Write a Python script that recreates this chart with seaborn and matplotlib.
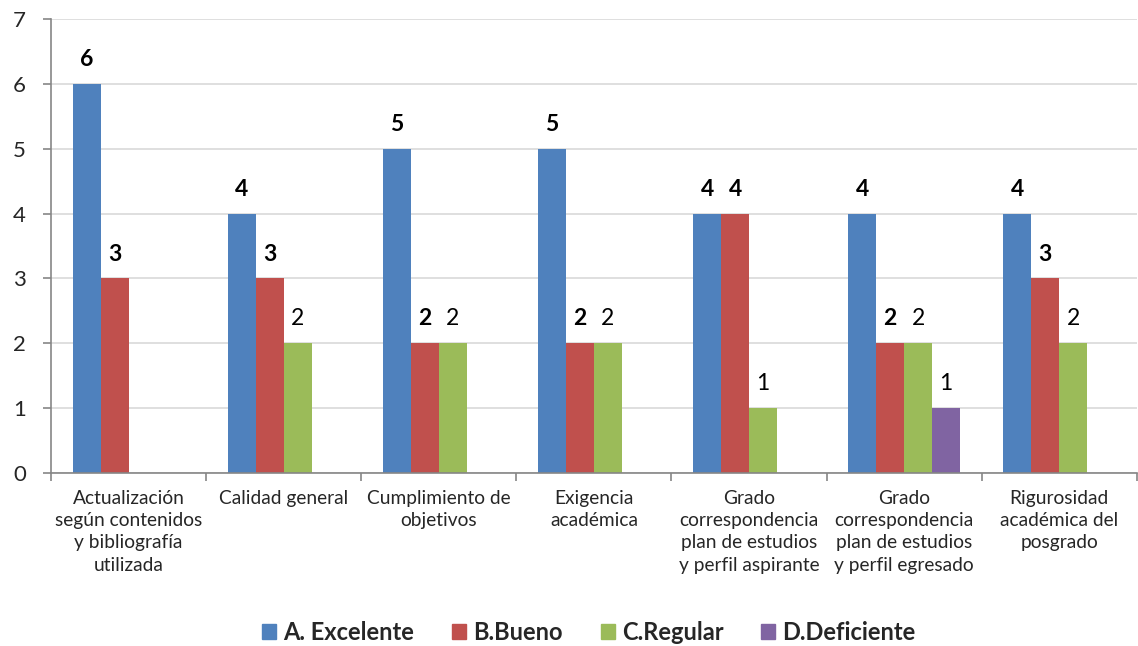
import matplotlib
matplotlib.use("Agg")
import matplotlib.pyplot as plt
import seaborn as sns
import pandas as pd
import numpy as np

categories = [
    "Actualización\nsegún contenidos\ny bibliografía\nutilizada",
    "Calidad general",
    "Cumplimiento de\nobjetivos",
    "Exigencia\nacadémica",
    "Grado\ncorrespondencia\nplan de estudios\ny perfil aspirante",
    "Grado\ncorrespondencia\nplan de estudios\ny perfil egresado",
    "Rigurosidad\nacadémica del\nposgrado",
]
series = ["A. Excelente", "B.Bueno", "C.Regular", "D.Deficiente"]
excelente = [6, 4, 5, 5, 4, 4, 4]
bueno = [3, 3, 2, 2, 4, 2, 3]
regular = [0, 2, 2, 2, 1, 2, 2]
deficiente = [0, 0, 0, 0, 0, 1, 0]
yticks = [0, 1, 2, 3, 4, 5, 6, 7]

colors = ["#4F81BD", "#C0504D", "#9BBB59", "#8064A2"]
bold_series = [True, True, False, False]

rows = []
for s, vals in zip(series, [excelente, bueno, regular, deficiente]):
    for c, v in zip(categories, vals):
        rows.append({"cat": c, "serie": s, "valor": v})
df = pd.DataFrame(rows)

sns.set_theme(style="white")
plt.rcParams["font.family"] = ["Lato", "DejaVu Sans"]

fig = plt.figure(figsize=(11.38, 6.46), dpi=100)
ax = fig.add_axes([51 / 1138, 1 - 473 / 646, 1 - 51 / 1138 - 0.001, (473 - 19) / 646])

sns.barplot(data=df, x="cat", y="valor", hue="serie", order=categories,
            hue_order=series, palette=colors, width=0.72, linewidth=0,
            saturation=1, ax=ax, legend=True)

for cont, b in zip(ax.containers, bold_series):
    labels = [("%d" % round(r.get_height())) if r.get_height() > 0 else "" for r in cont]
    ax.bar_label(cont, labels=labels, padding=10, fontsize=16.5,
                 fontweight="bold" if b else "normal", color="black")

ax.set_ylim(0, 7)
ax.set_xlim(-0.5, len(categories) - 0.5)
ax.set_yticks(yticks)
ax.set_xlabel("")
ax.set_ylabel("")
ax.yaxis.grid(True, color="#D9D9D9", linewidth=1.2)
ax.set_axisbelow(True)
for sp in ["top", "right"]:
    ax.spines[sp].set_visible(False)
for sp in ["left", "bottom"]:
    ax.spines[sp].set_color("#868686")
    ax.spines[sp].set_linewidth(1.2)

ax.tick_params(axis="y", which="major", length=6, width=1.2, color="#868686",
               pad=12, labelsize=16, left=True)
ax.tick_params(axis="x", which="major", length=0, pad=12, labelsize=13.8)
ax.set_xticks(np.arange(-0.5, len(categories), 1.0), minor=True)
ax.tick_params(axis="x", which="minor", length=6, width=1.2, color="#868686",
               direction="out", bottom=True)
for lab in ax.get_xticklabels():
    lab.set_linespacing(1.38)
    lab.set_verticalalignment("top")

ax.get_legend().remove()
handles = [plt.Rectangle((0, 0), 1, 1, color=c) for c in colors]
leg = fig.legend(handles, series, loc="center", bbox_to_anchor=(589 / 1138, 1 - 632 / 646),
                 ncol=4, frameon=False, handlelength=0.6, handleheight=0.6,
                 handletextpad=0.3, columnspacing=1.6,
                 prop={"weight": "bold", "size": 17})

fig.savefig("out.png", dpi=100)
